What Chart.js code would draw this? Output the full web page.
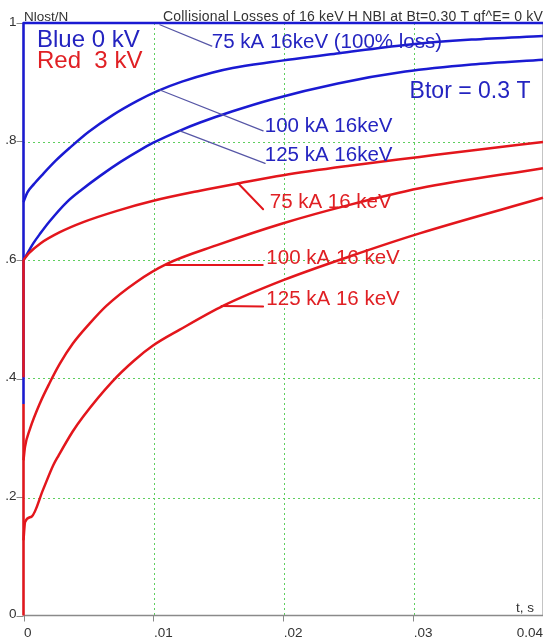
<!DOCTYPE html>
<html>
<head>
<meta charset="utf-8">
<script src="https://cdn.jsdelivr.net/npm/chart.js@4.4.1/dist/chart.umd.min.js"></script>
<style>
  html, body { margin: 0; padding: 0; background: #fff; }
  #wrap { width: 544px; height: 639px; }
</style>
</head>
<body>
<div id="wrap"><canvas id="c" width="544" height="639"></canvas></div>
<script>
// Time axis (s) and lost fraction Nlost/N for each beam case
const tBlue75 = [0, 0, 0.04];
const vBlue75 = [0.357, 1, 1];

const tBlue100 = [0, 0.0003, 0.0008, 0.0015, 0.0025, 0.0036, 0.0050, 0.0069, 0.0088, 0.0103, 0.0122, 0.0145, 0.0161, 0.0191, 0.0243, 0.0294, 0.0345, 0.04];
const vBlue100 = [0.698, 0.714, 0.728, 0.745, 0.768, 0.790, 0.816, 0.845, 0.869, 0.885, 0.901, 0.916, 0.924, 0.934, 0.949, 0.963, 0.972, 0.978];

const tBlue125 = [0, 0.0004, 0.00075, 0.0013, 0.002, 0.0033, 0.0045, 0.0059, 0.0075, 0.009, 0.01, 0.012, 0.0136, 0.0161, 0.0191, 0.0242, 0.0294, 0.0345, 0.04];
const vBlue125 = [0.600, 0.615, 0.628, 0.645, 0.665, 0.697, 0.719, 0.742, 0.766, 0.786, 0.798, 0.818, 0.832, 0.851, 0.871, 0.898, 0.918, 0.930, 0.938];

// vertical start-up step of the 3 kV, 75 kA case
const tRed75Step = [0, 0];
const vRed75Step = [0.402, 0.600];
const tRed75 = [0, 0.0004, 0.0013, 0.0028, 0.0046, 0.0072, 0.01, 0.0136, 0.0167, 0.02, 0.0251, 0.0305, 0.0345, 0.04];
const vRed75 = [0.600, 0.611, 0.628, 0.647, 0.664, 0.683, 0.700, 0.717, 0.730, 0.743, 0.759, 0.774, 0.785, 0.799];

const tRed100 = [0, 0.00012, 0.0005, 0.0013, 0.002, 0.0028, 0.0038, 0.0051, 0.0064, 0.0087, 0.011, 0.0149, 0.02, 0.0251, 0.0305, 0.04];
const vRed100 = [0.262, 0.285, 0.315, 0.360, 0.392, 0.425, 0.459, 0.493, 0.523, 0.563, 0.593, 0.625, 0.662, 0.693, 0.721, 0.755];

// vertical start-up step of the 3 kV, 125 kA case
const tRed125Step = [0, 0];
const vRed125Step = [0, 0.357];
const tRed125 = [0, 0.00012, 0.00063, 0.0015, 0.0023, 0.0027, 0.0038, 0.0046, 0.0068, 0.0085, 0.01, 0.012, 0.0154, 0.02, 0.0251, 0.0305, 0.04];
const vRed125 = [0.127, 0.158, 0.167, 0.212, 0.254, 0.270, 0.311, 0.336, 0.394, 0.430, 0.456, 0.482, 0.523, 0.566, 0.606, 0.645, 0.705];

// Axis ticks
const xTicks = [0, 0.01, 0.02, 0.03, 0.04];
const xTickLabels = ['0', '.01', '.02', '.03', '0.04'];
const yTicks = [0, 0.2, 0.4, 0.6, 0.8, 1];
const yTickLabels = ['0', '.2', '.4', '.6', '.8', '1'];

// Curve labels: text, anchor (t, value), leader from -> to (t, value)
const blueLabels = ['75 kA 16keV (100% loss)', '100 kA 16keV', '125 kA 16keV'];
const blueLabelAt = [[0.0145, 0.968], [0.01858, 0.826], [0.01858, 0.777]];
const blueLeaders = [[[0.0105, 0.997], [0.0145, 0.961]], [[0.0105, 0.887], [0.01845, 0.818]], [[0.01204, 0.818], [0.0186, 0.763]]];

const redLabels = ['75 kA 16 keV', '100 kA 16 keV', '125 kA 16 keV'];
const redLabelAt = [[0.01896, 0.698], [0.0187, 0.602], [0.0187, 0.534]];
const redLeaders = [[[0.01652, 0.7295], [0.01845, 0.6856]], [[0.01088, 0.5916], [0.01842, 0.5916]], [[0.01525, 0.5224], [0.01845, 0.5215]]];

const BLUE = '#1a1ad2';
const RED = '#e3161c';
const FONT = '"Liberation Sans", Arial, sans-serif';

const pts = (ts, vs) => ts.map((t, i) => ({ x: t, y: vs[i] }));

function line(ctx, x1, y1, x2, y2) {
  ctx.beginPath(); ctx.moveTo(x1, y1); ctx.lineTo(x2, y2); ctx.stroke();
}

// snap a grid line onto an even device pixel
const snap = (p) => 2 * Math.round(p / 2) + 0.5;

const decor = {
  id: 'decor',
  beforeDatasetsDraw(chart) {
    const { ctx, chartArea: a, scales: { x, y } } = chart;
    ctx.save();
    // dotted green grid
    ctx.strokeStyle = '#5fcf5f';
    ctx.lineWidth = 1;
    ctx.setLineDash([2, 3]);
    xTicks.slice(1, -1).forEach(t => {
      const px = snap(x.getPixelForValue(t));
      line(ctx, px, Math.floor(a.top), px, a.bottom);
    });
    yTicks.slice(1, -1).forEach(v => {
      const py = snap(y.getPixelForValue(v));
      line(ctx, Math.floor(a.left), py, a.right, py);
    });
    ctx.setLineDash([]);
    // frame
    ctx.strokeStyle = '#c4c4c4';
    line(ctx, a.right - 0.5, a.top, a.right - 0.5, a.bottom);
    ctx.strokeStyle = '#8a8a8a';
    ctx.lineWidth = 1.5;
    line(ctx, a.left, a.bottom, a.right, a.bottom);
    line(ctx, a.left, a.top, a.left, a.bottom);
    // tick marks
    ctx.lineWidth = 1;
    xTicks.slice(0, -1).forEach(t => {
      const px = Math.round(x.getPixelForValue(t)) + 0.5;
      line(ctx, px, a.bottom, px, a.bottom + 6);
    });
    yTicks.forEach(v => {
      const py = Math.round(y.getPixelForValue(v)) + 0.5;
      line(ctx, a.left - 7, py, a.left, py);
    });
    // tick labels
    ctx.fillStyle = '#333';
    ctx.font = '13.5px ' + FONT;
    ctx.textBaseline = 'middle';
    ctx.textAlign = 'right';
    yTicks.forEach((v, i) => {
      ctx.fillText(yTickLabels[i], a.left - 7, y.getPixelForValue(v) - 1);
    });
    ctx.textBaseline = 'alphabetic';
    xTicks.forEach((t, i) => {
      const px = x.getPixelForValue(t);
      if (i === xTicks.length - 1) {
        ctx.textAlign = 'right';
        ctx.fillText(xTickLabels[i], px, 636.5);
      } else {
        ctx.textAlign = 'left';
        ctx.fillText(xTickLabels[i], px + 0.5, 636.5);
      }
    });
    // axis captions and heading
    ctx.textAlign = 'left';
    ctx.fillText('Nlost/N', 24, 20.5);
    ctx.textAlign = 'right';
    ctx.fillText('t, s', 534, 612);
    ctx.textAlign = 'left';
    ctx.font = '14px ' + FONT;
    if ('letterSpacing' in ctx) ctx.letterSpacing = '0.2px';
    ctx.fillText('Collisional Losses of 16 keV H NBI at Bt=0.30 T gf^E= 0 kV', 163, 20.5);
    if ('letterSpacing' in ctx) ctx.letterSpacing = '0px';
    ctx.restore();
  },
  afterDatasetsDraw(chart) {
    const { ctx, scales: { x, y } } = chart;
    const P = (p) => [x.getPixelForValue(p[0]), y.getPixelForValue(p[1])];
    ctx.save();
    // leaders
    ctx.lineCap = 'round';
    ctx.strokeStyle = '#5656a6';
    ctx.lineWidth = 1.2;
    blueLeaders.forEach(([p, q]) => { const a = P(p), b = P(q); line(ctx, a[0], a[1], b[0], b[1]); });
    ctx.strokeStyle = RED;
    ctx.lineWidth = 2;
    redLeaders.forEach(([p, q]) => { const a = P(p), b = P(q); line(ctx, a[0], a[1], b[0], b[1]); });
    // curve labels
    ctx.textBaseline = 'middle';
    ctx.textAlign = 'left';
    ctx.font = '20.5px ' + FONT;
    ctx.fillStyle = '#2424c0';
    blueLabels.forEach((s, i) => { const a = P(blueLabelAt[i]); ctx.fillText(s, a[0], a[1]); });
    ctx.fillStyle = '#e02024';
    redLabels.forEach((s, i) => { const a = P(redLabelAt[i]); ctx.fillText(s, a[0], a[1]); });
    // notes
    ctx.font = '24px ' + FONT;
    ctx.fillStyle = '#2424c0';
    let a = P([0.00104, 0.9713]);
    ctx.fillText('Blue 0 kV', a[0], a[1]);
    ctx.fillStyle = '#e02024';
    a = P([0.00104, 0.9347]);
    ctx.fillText('Red  3 kV', a[0], a[1]);
    ctx.font = '23px ' + FONT;
    ctx.fillStyle = '#2424c0';
    a = P([0.02973, 0.8835]);
    ctx.fillText('Btor = 0.3 T', a[0], a[1]);
    ctx.restore();
  }
};

const mk = (label, ts, vs, color, order, smooth) => ({
  label, data: pts(ts, vs), showLine: true, borderColor: color, backgroundColor: color,
  borderWidth: 2.5, pointRadius: 0, tension: 0,
  cubicInterpolationMode: smooth ? 'monotone' : 'default',
  borderJoinStyle: 'round', clip: false, order
});

new Chart(document.getElementById('c'), {
  type: 'scatter',
  data: {
    datasets: [
      mk('Red 125 kA step', tRed125Step, vRed125Step, RED, 1, false),
      mk('Red 125 kA', tRed125, vRed125, RED, 1, true),
      mk('Red 100 kA', tRed100, vRed100, RED, 2, true),
      mk('Red 75 kA step', tRed75Step, vRed75Step, RED, 3, false),
      mk('Red 75 kA', tRed75, vRed75, RED, 3, true),
      mk('Blue 125 kA', tBlue125, vBlue125, BLUE, 4, true),
      mk('Blue 100 kA', tBlue100, vBlue100, BLUE, 5, true),
      mk('Blue 75 kA', tBlue75, vBlue75, BLUE, 6, false)
    ]
  },
  options: {
    responsive: false,
    animation: false,
    layout: { padding: { left: 23.5, right: 1, top: 23, bottom: 23.5 } },
    plugins: { legend: { display: false }, tooltip: { enabled: false } },
    scales: {
      x: { type: 'linear', min: 0, max: 0.04, display: false },
      y: { type: 'linear', min: 0, max: 1, display: false }
    }
  },
  plugins: [decor]
});
</script>
</body>
</html>
